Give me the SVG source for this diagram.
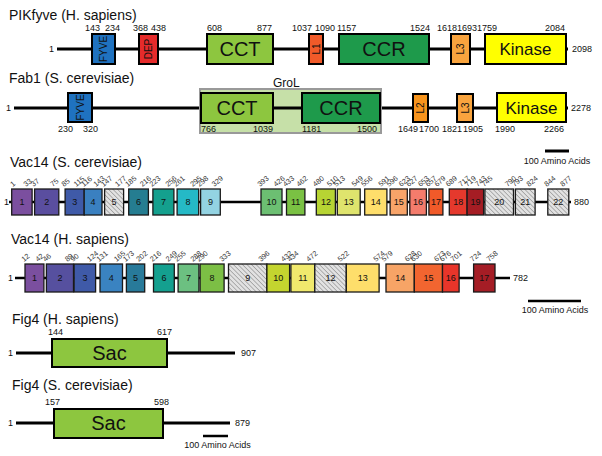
<svg xmlns="http://www.w3.org/2000/svg" width="602" height="456" viewBox="0 0 602 456">
<defs>
<pattern id="hatch" patternUnits="userSpaceOnUse" width="3.2" height="3.2" patternTransform="rotate(-45)">
<rect width="3.2" height="3.2" fill="#e2e2e2"/>
<line x1="0" y1="0" x2="0" y2="3.2" stroke="#7a7a7a" stroke-width="1"/>
</pattern>
</defs>
<style>
text{font-family:"Liberation Sans",Arial,sans-serif;fill:#111}
.t{font-size:14px}
.n{font-size:9px}
.r{font-size:7.3px;fill:#333}
.d{font-size:20px}
.k{font-size:17px}
.v{font-size:10px}
.bn{font-size:9px;text-anchor:middle}
.bb{stroke:#000;stroke-width:3;fill:none}
.bv{stroke:#000;stroke-width:2.5;fill:none}
.box{stroke:#000;stroke-width:2}
.vb{stroke:#1a1a1a;stroke-width:1.3}
.mid{text-anchor:middle}
.end{text-anchor:end}
</style>

<!-- connectors / backbones -->
<g id="connectors">
<line class="bb" x1="57" y1="49" x2="568" y2="49"/>
<line class="bb" x1="14" y1="108" x2="568" y2="108"/>
<line class="bv" x1="9" y1="202" x2="571" y2="202"/>
<line class="bv" x1="15" y1="278" x2="510" y2="278"/>
<line class="bb" x1="16" y1="353" x2="235" y2="353"/>
<line class="bb" x1="16" y1="423" x2="230" y2="423"/>
</g>

<!-- PIKfyve -->
<g id="pikfyve">
<text class="t" x="9" y="20">PIKfyve (H. sapiens)</text>
<text class="n end" x="54" y="52">1</text>
<text class="n" x="572" y="52">2098</text>
<rect class="box" x="92" y="34" width="23" height="30" fill="#1f72c0"/>
<text class="v mid" transform="translate(107,49) rotate(-90)">FYVE</text>
<rect class="box" x="139" y="34" width="19" height="30" fill="#e52b2b"/>
<text class="v mid" transform="translate(152,49) rotate(-90)">DEP</text>
<rect class="box" x="207" y="34" width="66" height="30" fill="#8dc63f"/>
<text class="d mid" x="240" y="56">CCT</text>
<rect class="box" x="309" y="34" width="14" height="30" fill="#f15a29"/>
<text class="v mid" transform="translate(320,49) rotate(-90)">L1</text>
<rect class="box" x="339" y="34" width="90" height="30" fill="#1e9a4b"/>
<text class="d mid" x="384" y="56">CCR</text>
<rect class="box" x="451" y="34" width="19" height="30" fill="#f9a43e"/>
<text class="v mid" transform="translate(464,49) rotate(-90)">L3</text>
<rect class="box" x="485" y="34" width="81" height="30" fill="#ffff00"/>
<text class="k mid" x="525.5" y="55">Kinase</text>
<text class="n" x="85" y="31">143</text>
<text class="n" x="105" y="31">234</text>
<text class="n" x="133" y="31">368</text>
<text class="n" x="151" y="31">438</text>
<text class="n" x="207" y="31">608</text>
<text class="n" x="257" y="31">877</text>
<text class="n" x="292" y="31">1037</text>
<text class="n" x="315" y="31">1090</text>
<text class="n" x="337" y="31">1157</text>
<text class="n" x="410" y="31">1524</text>
<text class="n" x="437" y="31">1618</text>
<text class="n" x="457" y="31">1693</text>
<text class="n" x="477" y="31">1759</text>
<text class="n" x="545" y="31">2084</text>
</g>

<!-- Fab1 -->
<g id="fab1">
<text class="t" x="9" y="83">Fab1 (S. cerevisiae)</text>
<rect x="200" y="89" width="181" height="44" fill="#c6e0a8" stroke="#999" stroke-width="2"/>
<line class="bb" x1="273" y1="108" x2="302" y2="108"/>
<text x="273" y="87" style="font-size:12px">GroL</text>
<text class="n end" x="11" y="111">1</text>
<text class="n" x="571" y="111">2278</text>
<rect class="box" x="68" y="93" width="24" height="29" fill="#1f72c0"/>
<text class="v mid" transform="translate(84,107.5) rotate(-90)">FYVE</text>
<rect class="box" x="201" y="93" width="72" height="30" fill="#8dc63f"/>
<text class="d mid" x="237" y="115">CCT</text>
<rect class="box" x="302" y="93" width="78" height="30" fill="#1e9a4b"/>
<text class="d mid" x="341" y="115">CCR</text>
<rect class="box" x="413" y="94" width="15" height="28" fill="#f7941d"/>
<text class="v mid" transform="translate(424,108) rotate(-90)">L2</text>
<rect class="box" x="457" y="94" width="16" height="28" fill="#f9a43e"/>
<text class="v mid" transform="translate(468.5,108) rotate(-90)">L3</text>
<rect class="box" x="497" y="93" width="69" height="29" fill="#ffff00"/>
<text class="k mid" x="531.5" y="114">Kinase</text>
<text class="n" x="58" y="132">230</text>
<text class="n" x="83" y="132">320</text>
<text class="n" x="201" y="132">766</text>
<text class="n" x="253" y="132">1039</text>
<text class="n" x="302" y="132">1181</text>
<text class="n" x="357" y="132">1500</text>
<text class="n" x="398" y="132">1649</text>
<text class="n" x="419" y="132">1700</text>
<text class="n" x="442" y="132">1821</text>
<text class="n" x="463" y="132">1905</text>
<text class="n" x="495" y="132">1990</text>
<text class="n" x="544" y="132">2266</text>
</g>

<g id="scalebar1">
<line x1="545" y1="151" x2="569" y2="151" stroke="#000" stroke-width="3"/>
<text class="n mid" x="557" y="164">100 Amino Acids</text>
</g>

<!-- Vac14 S. cerevisiae -->
<g id="vac14-sc">
<text class="t" x="10" y="167">Vac14 (S. cerevisiae)</text>
<text class="n" x="4" y="205">1</text>
<text class="n" x="574" y="205">880</text>
<rect class="vb" x="11.7" y="189" width="20.4" height="26" fill="#7b4f9f"/>
<rect class="vb" x="34.6" y="189" width="24.2" height="26" fill="#5a4e9f"/>
<rect class="vb" x="65.1" y="189" width="19.1" height="26" fill="#3f5aa8"/>
<rect class="vb" x="84.2" y="189" width="17.8" height="26" fill="#3a80c0"/>
<rect class="vb" x="104.6" y="189" width="19" height="26" fill="url(#hatch)"/>
<rect class="vb" x="128.7" y="189" width="19.7" height="26" fill="#257d91"/>
<rect class="vb" x="152.9" y="189" width="21" height="26" fill="#14a08e"/>
<rect class="vb" x="177.1" y="189" width="21.6" height="26" fill="#25b9c6"/>
<rect class="vb" x="200.6" y="189" width="19.7" height="26" fill="#93d3e2"/>
<rect class="vb" x="261" y="189" width="21" height="26" fill="#6cbf72"/>
<rect class="vb" x="286.5" y="189" width="18.4" height="26" fill="#7ac143"/>
<rect class="vb" x="316.3" y="189" width="19.1" height="26" fill="#b7d433"/>
<rect class="vb" x="337.3" y="189" width="22.9" height="26" fill="#dfe46d"/>
<rect class="vb" x="364.7" y="189" width="22.2" height="26" fill="#fede6b"/>
<rect class="vb" x="390.1" y="189" width="17.2" height="26" fill="#f8a469"/>
<rect class="vb" x="409.8" y="189" width="16.6" height="26" fill="#f47c6c"/>
<rect class="vb" x="428.9" y="189" width="14" height="26" fill="#f15a29"/>
<rect class="vb" x="449.3" y="189" width="17.8" height="26" fill="#e5392d"/>
<rect class="vb" x="467.1" y="189" width="16.5" height="26" fill="#a51d24"/>
<rect class="vb" x="484.9" y="189" width="28.6" height="26" fill="url(#hatch)"/>
<rect class="vb" x="515.4" y="189" width="19.7" height="26" fill="url(#hatch)"/>
<rect class="vb" x="547.8" y="189" width="21" height="26" fill="url(#hatch)"/>
<text class="bn" x="21.9" y="205">1</text>
<text class="bn" x="46.7" y="205">2</text>
<text class="bn" x="74.7" y="205">3</text>
<text class="bn" x="93.1" y="205">4</text>
<text class="bn" x="114.1" y="205">5</text>
<text class="bn" x="138.6" y="205">6</text>
<text class="bn" x="163.4" y="205">7</text>
<text class="bn" x="187.9" y="205">8</text>
<text class="bn" x="210.5" y="205">9</text>
<text class="bn" x="271.5" y="205">10</text>
<text class="bn" x="295.7" y="205">11</text>
<text class="bn" x="325.9" y="205">12</text>
<text class="bn" x="348.8" y="205">13</text>
<text class="bn" x="375.8" y="205">14</text>
<text class="bn" x="398.7" y="205">15</text>
<text class="bn" x="418.1" y="205">16</text>
<text class="bn" x="435.9" y="205">17</text>
<text class="bn" x="458.2" y="205">18</text>
<text class="bn" x="475.4" y="205">19</text>
<text class="bn" x="499.2" y="205">20</text>
<text class="bn" x="525.3" y="205">21</text>
<text class="bn" x="558.3" y="205">22</text>
<text class="r" transform="translate(12.7,187) rotate(-40)">1</text>
<text class="r" transform="translate(26.1,187) rotate(-40)">33</text>
<text class="r" transform="translate(33.6,187) rotate(-40)">37</text>
<text class="r" transform="translate(52.8,187) rotate(-40)">75</text>
<text class="r" transform="translate(64.1,187) rotate(-40)">85</text>
<text class="r" transform="translate(76.2,187) rotate(-40)">115</text>
<text class="r" transform="translate(83.8,187) rotate(-40)">116</text>
<text class="r" transform="translate(96,187) rotate(-40)">143</text>
<text class="r" transform="translate(103.6,187) rotate(-40)">147</text>
<text class="r" transform="translate(117.6,187) rotate(-40)">177</text>
<text class="r" transform="translate(127.7,187) rotate(-40)">185</text>
<text class="r" transform="translate(142.4,187) rotate(-40)">216</text>
<text class="r" transform="translate(151.9,187) rotate(-40)">223</text>
<text class="r" transform="translate(167.9,187) rotate(-40)">256</text>
<text class="r" transform="translate(176.1,187) rotate(-40)">261</text>
<text class="r" transform="translate(192.7,187) rotate(-40)">295</text>
<text class="r" transform="translate(199.6,187) rotate(-40)">298</text>
<text class="r" transform="translate(214.3,187) rotate(-40)">329</text>
<text class="r" transform="translate(260,187) rotate(-40)">393</text>
<text class="r" transform="translate(276,187) rotate(-40)">426</text>
<text class="r" transform="translate(285.5,187) rotate(-40)">433</text>
<text class="r" transform="translate(298.9,187) rotate(-40)">462</text>
<text class="r" transform="translate(315.3,187) rotate(-40)">480</text>
<text class="r" transform="translate(329.4,187) rotate(-40)">510</text>
<text class="r" transform="translate(336.3,187) rotate(-40)">513</text>
<text class="r" transform="translate(354.2,187) rotate(-40)">549</text>
<text class="r" transform="translate(363.7,187) rotate(-40)">556</text>
<text class="r" transform="translate(380.9,187) rotate(-40)">591</text>
<text class="r" transform="translate(389.1,187) rotate(-40)">596</text>
<text class="r" transform="translate(401.3,187) rotate(-40)">623</text>
<text class="r" transform="translate(408.8,187) rotate(-40)">627</text>
<text class="r" transform="translate(420.4,187) rotate(-40)">653</text>
<text class="r" transform="translate(427.9,187) rotate(-40)">657</text>
<text class="r" transform="translate(436.9,187) rotate(-40)">679</text>
<text class="r" transform="translate(448.3,187) rotate(-40)">689</text>
<text class="r" transform="translate(461.1,187) rotate(-40)">717</text>
<text class="r" transform="translate(467.3,187) rotate(-40)">719</text>
<text class="r" transform="translate(477.6,187) rotate(-40)">743</text>
<text class="r" transform="translate(483.9,187) rotate(-40)">745</text>
<text class="r" transform="translate(507.5,187) rotate(-40)">790</text>
<text class="r" transform="translate(514.4,187) rotate(-40)">793</text>
<text class="r" transform="translate(529.1,187) rotate(-40)">824</text>
<text class="r" transform="translate(546.8,187) rotate(-40)">844</text>
<text class="r" transform="translate(562.8,187) rotate(-40)">877</text>
</g>

<!-- Vac14 H. sapiens -->
<g id="vac14-hs">
<text class="t" x="11" y="244">Vac14 (H. sapiens)</text>
<text class="n" x="8" y="281">1</text>
<text class="n" x="513" y="281">782</text>
<rect class="vb" x="25" y="264" width="18.9" height="28" fill="#7b4f9f"/>
<rect class="vb" x="46.4" y="264" width="27.1" height="28" fill="#56509f"/>
<rect class="vb" x="74.1" y="264" width="21.5" height="28" fill="#3f5aa8"/>
<rect class="vb" x="100" y="264" width="22.5" height="28" fill="#3a83c1"/>
<rect class="vb" x="126.4" y="264" width="18.3" height="28" fill="#287a9a"/>
<rect class="vb" x="153.5" y="264" width="20.8" height="28" fill="#14a08f"/>
<rect class="vb" x="178.1" y="264" width="20.8" height="28" fill="#6cc081"/>
<rect class="vb" x="200.1" y="264" width="24" height="28" fill="#7cbf45"/>
<rect class="vb" x="228.5" y="264" width="38.4" height="28" fill="url(#hatch)"/>
<rect class="vb" x="266.9" y="264" width="22.7" height="28" fill="#c4d52f"/>
<rect class="vb" x="290.9" y="264" width="23.9" height="28" fill="#f0e96d"/>
<rect class="vb" x="314.8" y="264" width="31.5" height="28" fill="url(#hatch)"/>
<rect class="vb" x="346.3" y="264" width="32.8" height="28" fill="#fede6b"/>
<rect class="vb" x="386" y="264" width="28.3" height="28" fill="#f7a466"/>
<rect class="vb" x="414.3" y="264" width="28.2" height="28" fill="#f26530"/>
<rect class="vb" x="442.5" y="264" width="16.6" height="28" fill="#e8352a"/>
<rect class="vb" x="473.6" y="264" width="21.4" height="28" fill="#a51d25"/>
<text class="bn" x="34.5" y="281">1</text>
<text class="bn" x="60" y="281">2</text>
<text class="bn" x="84.9" y="281">3</text>
<text class="bn" x="111.3" y="281">4</text>
<text class="bn" x="135.6" y="281">5</text>
<text class="bn" x="163.9" y="281">6</text>
<text class="bn" x="188.5" y="281">7</text>
<text class="bn" x="212.1" y="281">8</text>
<text class="bn" x="247.7" y="281">9</text>
<text class="bn" x="278.3" y="281">10</text>
<text class="bn" x="302.9" y="281">11</text>
<text class="bn" x="330.6" y="281">12</text>
<text class="bn" x="362.7" y="281">13</text>
<text class="bn" x="400.2" y="281">14</text>
<text class="bn" x="428.4" y="281">15</text>
<text class="bn" x="450.8" y="281">16</text>
<text class="bn" x="484.3" y="281">17</text>
<text class="r" transform="translate(24,262) rotate(-40)">12</text>
<text class="r" transform="translate(37.9,262) rotate(-40)">42</text>
<text class="r" transform="translate(45.4,262) rotate(-40)">46</text>
<text class="r" transform="translate(67.5,262) rotate(-40)">89</text>
<text class="r" transform="translate(73.1,262) rotate(-40)">90</text>
<text class="r" transform="translate(89.6,262) rotate(-40)">124</text>
<text class="r" transform="translate(99,262) rotate(-40)">131</text>
<text class="r" transform="translate(116.5,262) rotate(-40)">165</text>
<text class="r" transform="translate(125.4,262) rotate(-40)">173</text>
<text class="r" transform="translate(138.7,262) rotate(-40)">202</text>
<text class="r" transform="translate(152.5,262) rotate(-40)">216</text>
<text class="r" transform="translate(168.3,262) rotate(-40)">249</text>
<text class="r" transform="translate(177.1,262) rotate(-40)">255</text>
<text class="r" transform="translate(192.9,262) rotate(-40)">288</text>
<text class="r" transform="translate(199.1,262) rotate(-40)">290</text>
<text class="r" transform="translate(222,262) rotate(-40)">333</text>
<text class="r" transform="translate(260.9,262) rotate(-40)">396</text>
<text class="r" transform="translate(283.6,262) rotate(-40)">432</text>
<text class="r" transform="translate(289.9,262) rotate(-40)">434</text>
<text class="r" transform="translate(308.8,262) rotate(-40)">472</text>
<text class="r" transform="translate(340.3,262) rotate(-40)">522</text>
<text class="r" transform="translate(376,262) rotate(-40)">574</text>
<text class="r" transform="translate(384,262) rotate(-40)">579</text>
<text class="r" transform="translate(407.3,262) rotate(-40)">628</text>
<text class="r" transform="translate(413.3,262) rotate(-40)">630</text>
<text class="r" transform="translate(436.5,262) rotate(-40)">673</text>
<text class="r" transform="translate(442.3,262) rotate(-40)">676</text>
<text class="r" transform="translate(453.1,262) rotate(-40)">701</text>
<text class="r" transform="translate(472.6,262) rotate(-40)">724</text>
<text class="r" transform="translate(489,262) rotate(-40)">758</text>
</g>

<g id="scalebar2">
<line x1="528" y1="301" x2="581" y2="301" stroke="#000" stroke-width="2.5"/>
<text class="n mid" x="555" y="313">100 Amino Acids</text>
</g>

<!-- Fig4 H. sapiens -->
<g id="fig4-hs">
<text class="t" x="12" y="324">Fig4 (H. sapiens)</text>
<text class="n" x="8" y="356">1</text>
<text class="n" x="241" y="356">907</text>
<rect class="box" x="52" y="339" width="115" height="28" fill="#8dc63f"/>
<text class="d mid" x="109.5" y="360">Sac</text>
<text class="n" x="48" y="335">144</text>
<text class="n" x="157" y="335">617</text>
</g>

<!-- Fig4 S. cerevisiae -->
<g id="fig4-sc">
<text class="t" x="12" y="390">Fig4 (S. cerevisiae)</text>
<text class="n" x="8" y="426">1</text>
<text class="n" x="235" y="426">879</text>
<rect class="box" x="54" y="409" width="109" height="29" fill="#8dc63f"/>
<text class="d mid" x="108.5" y="430">Sac</text>
<text class="n" x="45" y="405">157</text>
<text class="n" x="154" y="405">598</text>
</g>

<g id="scalebar3">
<line x1="203" y1="436" x2="228" y2="436" stroke="#000" stroke-width="2.5"/>
<text class="n mid" x="217.5" y="448">100 Amino Acids</text>
</g>
</svg>
